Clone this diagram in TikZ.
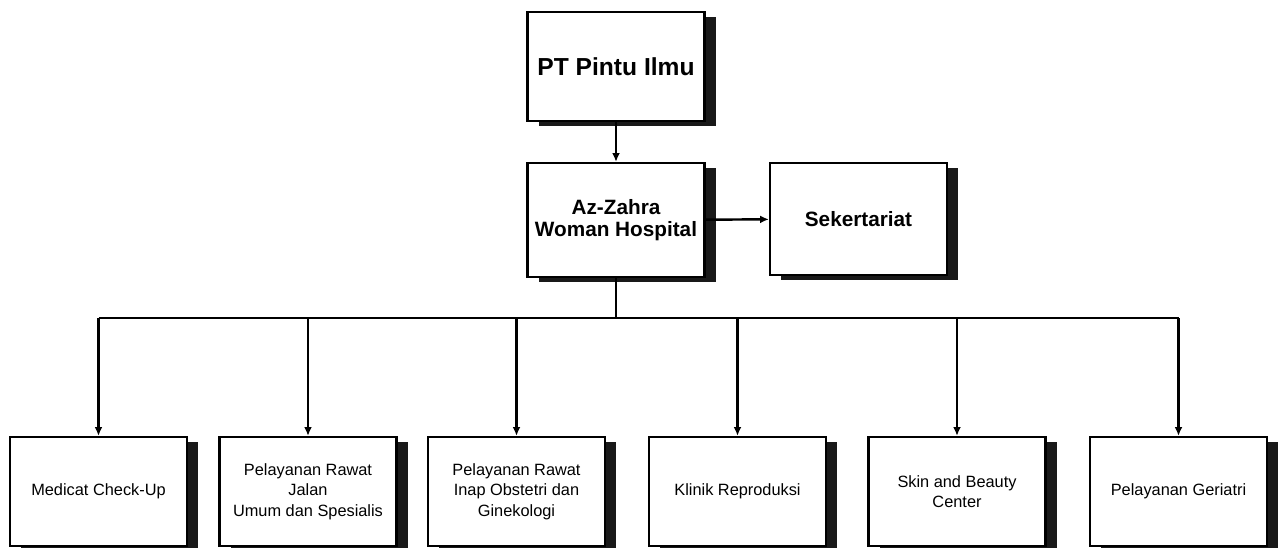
\documentclass[tikz,border=0pt]{standalone}
\usepackage{fontspec}
\setmainfont{Liberation Sans}
\usetikzlibrary{arrows.meta,shadows}

\begin{document}
\begin{tikzpicture}[x=0.2mm, y=-0.2mm,
    unit/.style={draw, line width=1.3pt, fill=white, align=center,
        minimum width=35.4mm, minimum height=21.8mm, inner sep=1pt,
        drop shadow={shadow xshift=2.2mm, shadow yshift=-1mm, fill=black!90, opacity=1}},
    headfont/.style={font=\fontsize{11.8}{12.5}\selectfont\bfseries},
    subfont/.style={font=\fontsize{9.3}{11.7}\selectfont},
    link/.style={line width=1.4pt, -{Latex[length=5pt,width=4.5pt]}}]

    \useasboundingbox (0,0) rectangle (1282,548);

    % Top units
    \node[unit, font=\fontsize{14}{16}\selectfont\bfseries] (pt) at (616,66.5) {PT Pintu Ilmu};
    \node[unit, headfont, minimum height=22.8mm] (az) at (616,220) {Az-Zahra\\Woman Hospital};
    \node[unit, headfont, minimum height=22.4mm] (sek) at (858.5,219) {Sekertariat};

    % Service units
    \node[unit, subfont] (b1) at (98.5,491.5) {Medicat Check-Up};
    \node[unit, subfont] (b2) at (308,491.5) {Pelayanan Rawat\\Jalan\\Umum dan Spesialis};
    \node[unit, subfont] (b3) at (516.5,491.5) {Pelayanan Rawat\\Inap Obstetri dan\\Ginekologi};
    \node[unit, subfont] (b4) at (737.5,491.5) {Klinik Reproduksi};
    \node[unit, subfont] (b5) at (957,491.5) {Skin and Beauty\\Center};
    \node[unit, subfont] (b6) at (1178.5,491.5) {Pelayanan Geriatri};

    % Connectors
    \coordinate (bus) at (616,318);
    \draw[link] (pt) -- (az);
    \draw[link] (az) -- (sek);
    \draw[line width=1.4pt] (az.south) -- (bus);
    \draw[line width=1.4pt] (b1 |- bus) -- (b6 |- bus);
    \foreach \n in {b1,b2,b3,b4,b5,b6}
        \draw[link] (\n |- bus) -- (\n.north);

\end{tikzpicture}
\end{document}
